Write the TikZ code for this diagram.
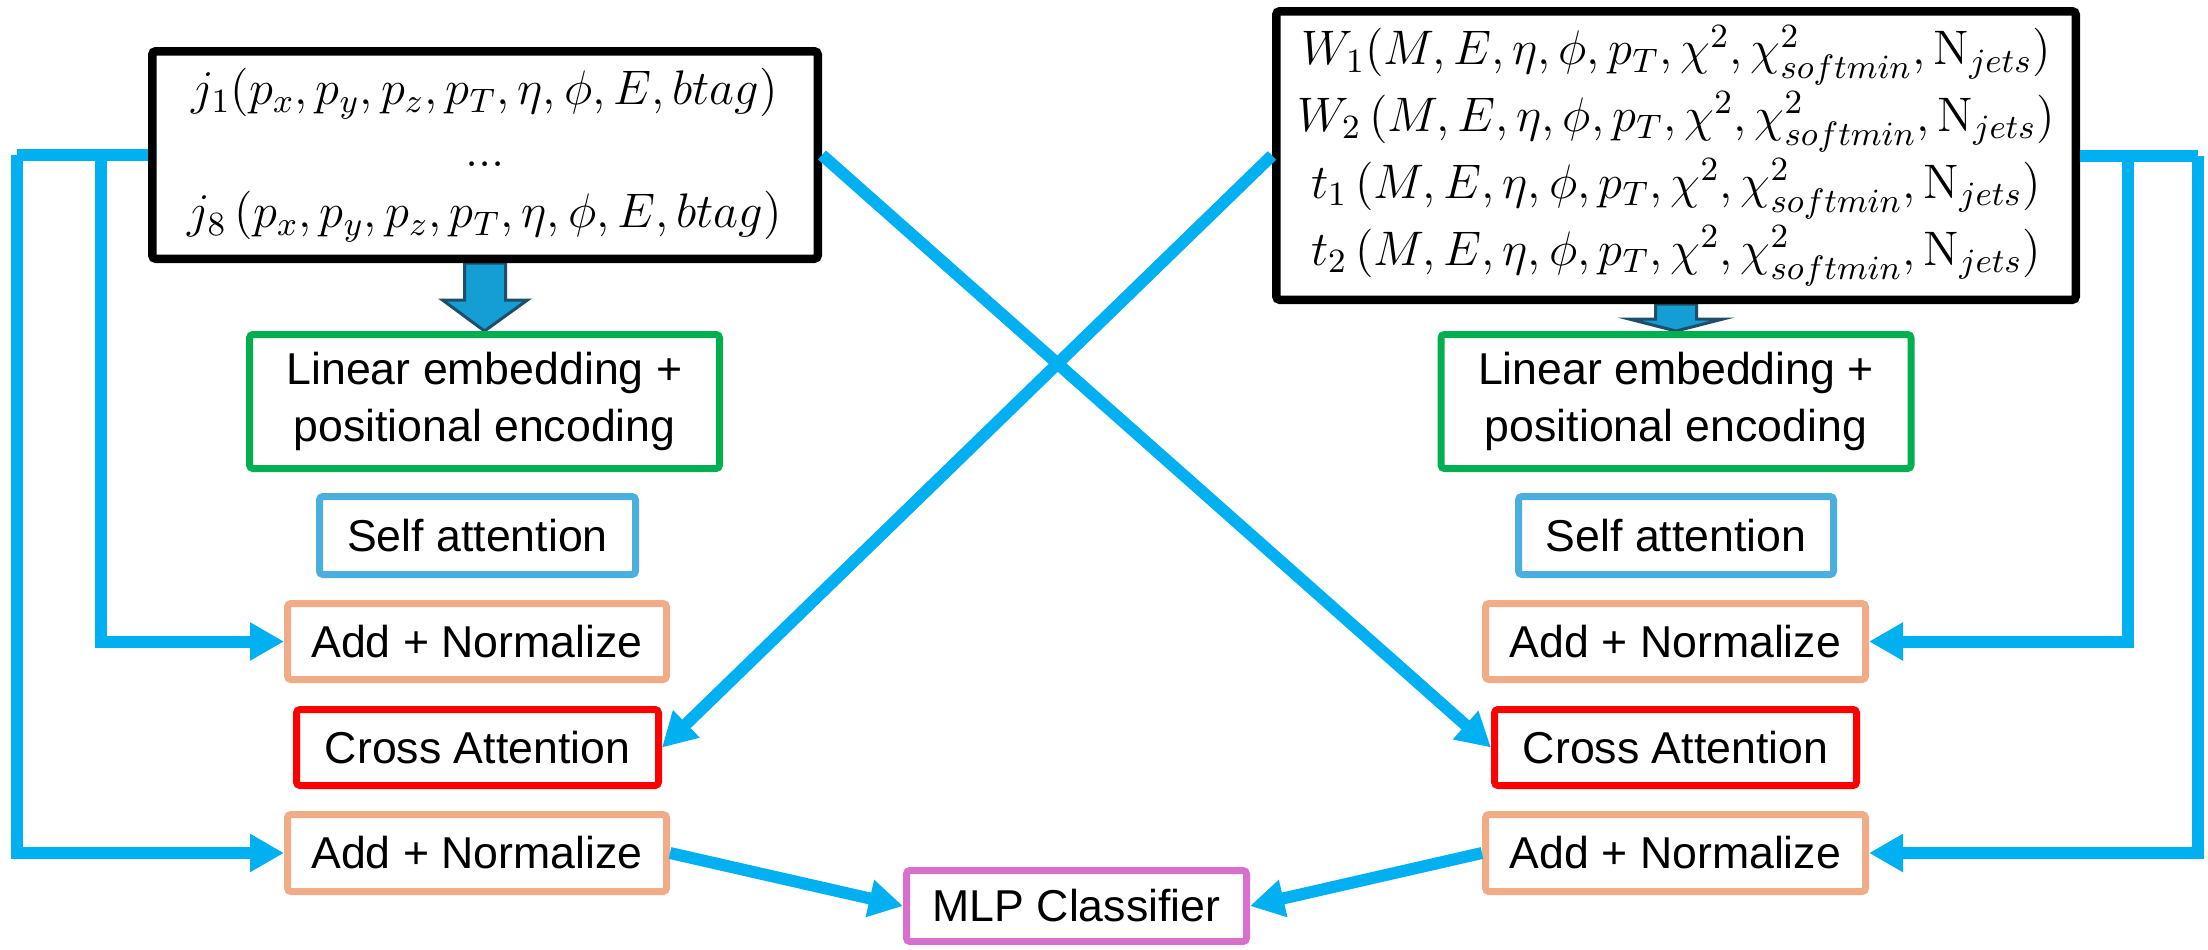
\RequirePackage{fix-cm}
\documentclass[tikz,border=0pt]{standalone}
\usepackage{color}
\usepackage{amsmath}
\usepackage{fontspec}
\newfontfamily\labelfont{Liberation Sans}
\usepackage{tikz}
\usetikzlibrary{calc}
\usetikzlibrary{arrows.meta}
\pgfdeclarelayer{background}
\pgfsetlayers{background,main}

\definecolor{linkblue}{RGB}{0,176,240}
\definecolor{fatblue}{RGB}{20,158,212}
\definecolor{fatborder}{RGB}{31,78,107}
\definecolor{embgreen}{RGB}{0,176,80}
\definecolor{selfblue}{RGB}{74,175,222}
\definecolor{addorange}{RGB}{240,172,135}
\definecolor{crossred}{RGB}{255,0,0}
\definecolor{mlppink}{RGB}{215,112,205}

\tikzset{
  stagebox/.style={draw, line width=0.07cm, rounded corners=1pt, fill=white,
    inner sep=0pt, align=center, font=\labelfont\fontsize{12.7}{16}\selectfont},
  inbox/.style={stagebox, draw=black, line width=0.085cm,
    font=\fontsize{13.8}{17.5}\selectfont},
  link/.style={draw=linkblue, line width=0.12cm,
    -{Triangle[length=0.34cm,width=0.36cm]}},
  feed/.style={draw=linkblue, line width=0.12cm},
  fat/.style={fill=fatblue, draw=fatborder, line width=0.03cm},
}

\begin{document}
\begin{tikzpicture}
  \useasboundingbox (0,0) rectangle (22.08,-9.49);

  % inputs
  \node[inbox, minimum width=6.655cm, minimum height=2.075cm] (jets) at (4.85,-1.55)
    {$j_1(p_x,p_y,p_z,p_T,\eta,\phi,E,btag)$\\ ...\\
     $j_8\,(p_x,p_y,p_z,p_T,\eta,\phi,E,btag)$};
  \node[inbox, minimum width=7.995cm, minimum height=2.885cm,
    font=\fontsize{13.8}{19}\selectfont] (tops) at (16.76,-1.555)
    {$W_1(M,E,\eta,\phi,p_T,\chi^2,\chi^2_{softmin},\mathrm{N}_{jets})$\\
     $W_2\,(M,E,\eta,\phi,p_T,\chi^2,\chi^2_{softmin},\mathrm{N}_{jets})$\\
     $t_1\,(M,E,\eta,\phi,p_T,\chi^2,\chi^2_{softmin},\mathrm{N}_{jets})$\\
     $t_2\,(M,E,\eta,\phi,p_T,\chi^2,\chi^2_{softmin},\mathrm{N}_{jets})$};

  % jet branch
  \node[stagebox, draw=embgreen, minimum width=4.7cm, minimum height=1.34cm] (embl) at (4.845,-4.015)
    {Linear embedding +\\ positional encoding};
  \node[stagebox, draw=selfblue, minimum width=3.16cm, minimum height=0.78cm] (selfl) at (4.775,-5.355) {Self attention};
  \node[stagebox, draw=addorange, minimum width=3.79cm, minimum height=0.76cm] (addl1) at (4.77,-6.415) {Add + Normalize};
  \node[stagebox, draw=crossred, minimum width=3.62cm, minimum height=0.76cm] (crossl) at (4.775,-7.475) {Cross Attention};
  \node[stagebox, draw=addorange, minimum width=3.79cm, minimum height=0.77cm] (addl2) at (4.77,-8.53) {Add + Normalize};

  % top branch
  \node[stagebox, draw=embgreen, minimum width=4.7cm, minimum height=1.34cm] (embr) at (16.76,-4.015)
    {Linear embedding +\\ positional encoding};
  \node[stagebox, draw=selfblue, minimum width=3.15cm, minimum height=0.78cm] (selfr) at (16.76,-5.355) {Self attention};
  \node[stagebox, draw=addorange, minimum width=3.8cm, minimum height=0.76cm] (addr1) at (16.755,-6.415) {Add + Normalize};
  \node[stagebox, draw=crossred, minimum width=3.62cm, minimum height=0.76cm] (crossr) at (16.755,-7.475) {Cross Attention};
  \node[stagebox, draw=addorange, minimum width=3.8cm, minimum height=0.77cm] (addr2) at (16.755,-8.53) {Add + Normalize};

  \node[stagebox, draw=mlppink, minimum width=3.4cm, minimum height=0.71cm] (mlp) at (10.765,-9.06) {MLP Classifier};

  \coordinate (louter) at (0.17,0);
  \coordinate (linner) at (1.01,0);
  \coordinate (rinner) at (21.28,0);
  \coordinate (router) at (21.98,0);

  % residual paths
  \draw[feed] (jets.west) -- (jets.west -| louter);
  \draw[link] (jets.west -| louter) |- (addl2.west);
  \draw[link] (jets.west -| linner) |- (addl1.west);
  \draw[feed] (tops.east) -- (tops.east -| router);
  \draw[link] (tops.east -| router) |- (addr2.east);
  \draw[link] (tops.east -| rinner) |- (addr1.east);

  % cross paths
  \draw[link] (jets.east) -- (crossr.west);
  \draw[link] (tops.west) -- (crossl.east);

  \draw[link] (addl2.east) -- (mlp.west);
  \draw[link] (addr2.west) -- (mlp.east);

  \begin{pgfonlayer}{background}
    \fill[white] (0,0) rectangle (22.08,-9.49);
    \draw[fat] ($(jets.south)+(-0.205,0)$) -- ($(jets.south)+(-0.205,-0.37)$)
      -- ($(jets.south)+(-0.425,-0.37)$) -- (embl.north)
      -- ($(jets.south)+(0.425,-0.37)$) -- ($(jets.south)+(0.205,-0.37)$)
      -- ($(jets.south)+(0.205,0)$) -- cycle;
    \draw[fat] ($(tops.south)+(-0.205,0)$) -- ($(tops.south)+(-0.205,-0.15)$)
      -- ($(tops.south)+(-0.47,-0.15)$) -- (embr.north)
      -- ($(tops.south)+(0.47,-0.15)$) -- ($(tops.south)+(0.205,-0.15)$)
      -- ($(tops.south)+(0.205,0)$) -- cycle;
  \end{pgfonlayer}
\end{tikzpicture}
\end{document}
